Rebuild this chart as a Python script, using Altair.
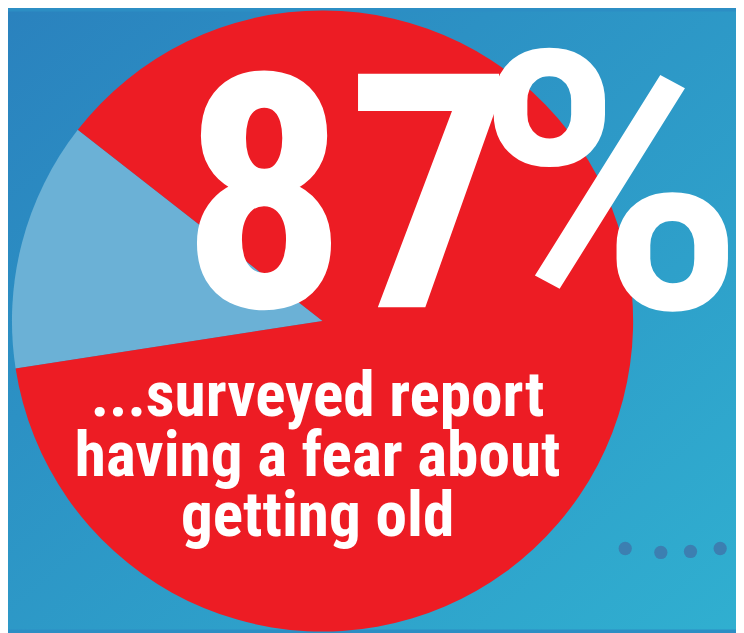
import math
import altair as alt
import pandas as pd

# ---- data ----
categories = ["Other", "Report a fear about getting old"]
values = [13, 87]
slice_colors = ["#6BB1D6", "#ED1C24"]
headline_number = ["87"]
headline_unit = ["%"]
subtitle_lines = ["...surveyed report", "having a fear about", "getting old"]
dot_x = [624, 660, 690, 720]
dot_y = [543, 547, 546, 543]

W, H = 736, 625
FONT = "Roboto Condensed, Open Sans Condensed, DejaVu Sans Condensed, sans-serif"
FONT_PCT = "Roboto"

pie_df = pd.DataFrame({"category": categories, "value": values, "order": [0, 1]})
one = pd.DataFrame({"k": [0]})
dots_df = pd.DataFrame({"x": dot_x, "y": dot_y})

start = math.radians(261.2)

bg = alt.Chart(one).mark_rect(
    fill={
        "gradient": "linear",
        "x1": 0, "y1": 0, "x2": 1, "y2": 1,
        "stops": [
            {"offset": 0, "color": "#2A82BE"},
            {"offset": 1, "color": "#30AFD0"},
        ],
    }
).encode(x=alt.value(0), x2=alt.value(W), y=alt.value(0), y2=alt.value(H))

pie = alt.Chart(pie_df).mark_arc(outerRadius=314, stroke=None).encode(
    theta=alt.Theta("value:Q", stack=True,
                    scale=alt.Scale(range=[start, start + 2 * math.pi])),
    color=alt.Color("category:N", legend=None,
                    scale=alt.Scale(domain=categories, range=slice_colors)),
    order=alt.Order("order:Q"),
    x=alt.value(318),
    y=alt.value(313),
)

big = alt.Chart(pd.DataFrame({"t": headline_number})).mark_text(
    font=FONT, fontWeight="bold", fontSize=332, color="white",
    align="left", baseline="alphabetic",
).encode(text="t:N", x=alt.value(175), y=alt.value(299))

pct = alt.Chart(pd.DataFrame({"t": headline_unit})).mark_text(
    font=FONT_PCT, fontWeight="bold", fontSize=365, color="white",
    align="left", baseline="alphabetic",
).encode(text="t:N", x=alt.value(474), y=alt.value(300))

sub = alt.Chart(one).mark_text(
    font=FONT, fontWeight="bold", fontSize=64, color="white",
    align="center", baseline="alphabetic", lineHeight=60.5,
).encode(text=alt.value(subtitle_lines), x=alt.value(313), y=alt.value(409))

dots = alt.Chart(dots_df).mark_circle(size=180, opacity=1, color="#3C7FB1").encode(
    x=alt.X("x:Q", scale=None, axis=None),
    y=alt.Y("y:Q", scale=None, axis=None),
)

chart = alt.layer(bg, pie, dots, big, pct, sub).properties(
    width=W, height=H, autosize="none", padding=0, background="#2C8EC4"
).configure_view(stroke=None)

chart.save("out.html", embed_options={"renderer": "svg", "actions": False})
